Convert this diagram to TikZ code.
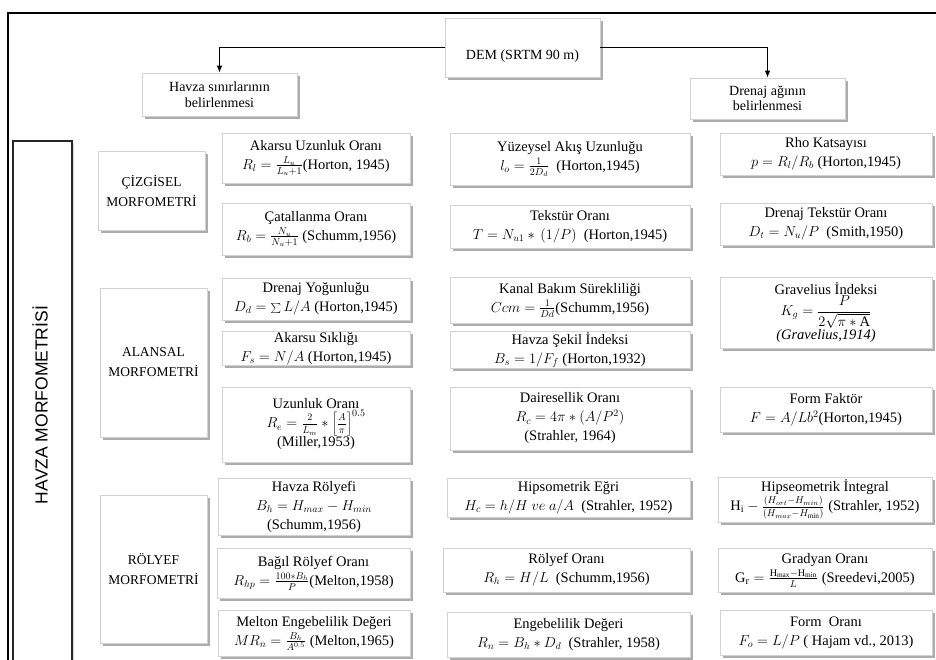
\documentclass[tikz,border=0pt]{standalone}
\usepackage{fontspec}
\setmainfont{Liberation Serif}
\newfontfamily\hsans{Liberation Sans}
\usetikzlibrary{shadows,arrows.meta}
\newcommand{\bxnode}[7][]{\node[bx,#1,minimum width={(#5-#3)*1pt},minimum height={(#6-#4)*1pt}] (#2) at ({(#3+#5)/2},{(#4+#6)/2}) {#7};}
\newcommand{\nup}{\rule[-3pt]{0pt}{0pt}}
\newcommand{\dnw}{\rule{0pt}{9pt}}
\begin{document}
\begin{tikzpicture}[x=1pt,y=-1pt,
 bx/.style={draw=gray!35, line width=0.8pt, fill=white, align=center, inner sep=1pt,
   font=\fontsize{14.5}{19}\selectfont,
   drop shadow={shadow xshift=2.6pt, shadow yshift=-2.6pt, fill=gray!65, opacity=1}},
 cat/.style={font=\fontsize{13.5}{20}\selectfont},
 top/.style={font=\fontsize{14}{15.5}\selectfont},
 conn/.style={line width=0.9pt, -{Latex[length=7pt,width=5.5pt]}},
 frame/.style={line width=2.6pt, line cap=rect},
]
\useasboundingbox (0,0) rectangle (936,660);
\fill[white] (0,0) rectangle (936,660);
% outer frame
\draw[frame] (8,664) -- (8,13) -- (940,13);

% top part
\bxnode[top]{dem}{445}{18}{600}{77}{}
\node[font=\fontsize{14}{15.5}\selectfont] (demtxt) at (522.5,56) {DEM (SRTM 90 m)};
\bxnode[top]{havzasin}{142}{73}{297}{116}{Havza sınırlarının\\belirlenmesi}
\bxnode[top]{drenaj}{690}{78}{845}{119}{Drenaj ağının\\belirlenmesi}
\draw[conn] (dem.west) -| (havzasin.north);
\draw[conn] (dem.east) -| (drenaj.north);

% big side box
\node[draw=black!85, line width=1.3pt, fill=white, minimum width=59pt, minimum height=525pt,
  drop shadow={shadow xshift=2pt, shadow yshift=-2pt, fill=gray!60}] (havzabox) at (42.5,403.5) {};
\node[rotate=90, font=\hsans\fontsize{17.5}{17.5}\selectfont] (havzatext) at (40,405) {HAVZA MORFOMETRİSİ};

% category boxes
\bxnode[cat]{cizgi}{98}{151}{205}{230}{ÇİZGİSEL\\MORFOMETRİ}
\bxnode[cat]{alan}{100}{288}{207}{437}{ALANSAL\\MORFOMETRİ}
\bxnode[cat]{rolyef}{100}{495}{207}{643}{RÖLYEF\\MORFOMETRİ}

% left column
\bxnode{l1}{222}{133}{410}{183}{Akarsu Uzunluk Oranı\\$R_l=\frac{L_u}{L_u+1}$(Horton, 1945)}
\bxnode{l2}{222}{203}{410}{255}{Çatallanma Oranı\\$R_b=\frac{N_u}{N_u+1}$ (Schumm,1956)}
\bxnode{l3}{222}{278}{410}{320}{Drenaj Yoğunluğu\\$D_d=\sum L/A$ (Horton,1945)}
\bxnode{l4}{222}{332}{410}{365}{Akarsu Sıklığı\\$F_s=N/A$ (Horton,1945)}
\bxnode{l5}{222}{387}{410}{462}{Uzunluk Oranı\\$R_e=\frac{\nup 2}{\dnw L_m}*\left[\frac{\nup A}{\dnw\pi}\right]^{0.5}$\\(Miller,1953)}
\bxnode{l6}{218}{478}{410}{535}{Havza Rölyefi\\$B_h=H_{max}-H_{min}$\\(Schumm,1956)}
\bxnode{l7}{217}{548}{410}{598}{Bağıl Rölyef Oranı\\$R_{hp}=\frac{100*B_h}{P}$(Melton,1958)}
\bxnode{l8}{218}{610}{410}{656}{Melton Engebelilik Değeri\\$MR_n=\frac{B_h}{A^{0.5}}$ (Melton,1965)}

% middle column
\bxnode{m1}{450}{133}{690}{185}{Yüzeysel Akış Uzunluğu\\$l_o=\frac{1}{2D_d}$ \ (Horton,1945)}
\bxnode{m2}{450}{205}{690}{248}{Tekstür Oranı\\$T=N_{u1}*\,(1/P)$ \ (Horton,1945)}
\bxnode{m3}{450}{277}{690}{323}{Kanal Bakım Sürekliliği\\$Ccm=\frac{1}{Dd}$(Schumm,1956)}
\bxnode{m4}{450}{332}{690}{368}{Havza Şekil İndeksi\\$B_s=1/F_f$ (Horton,1932)}
\bxnode{m5}{450}{387}{690}{450}{Dairesellik Oranı\\$R_c=4\pi*(A/P^2)$\\(Strahler, 1964)}
\bxnode{m6}{447}{478}{690}{517}{Hipsometrik Eğri\\$H_c=h/H\ ve\ a/A$ \ (Strahler, 1952)}
\bxnode{m7}{443}{548}{690}{592}{Rölyef Oranı\\$R_h=H/L$ \ (Schumm,1956)}
\bxnode{m8}{447}{612}{690}{657}{Engebelilik Değeri\\$R_n=B_h*D_d$ \ (Strahler, 1958)}

% right column
\bxnode{r1}{720}{133}{932}{175}{Rho Katsayısı\\$p=R_l/R_b$ (Horton,1945)}
\bxnode{r2}{720}{203}{932}{245}{Drenaj Tekstür Oranı\\$D_t=N_u/P$ \ (Smith,1950)}
\bxnode{r3}{720}{277}{932}{348}{Gravelius İndeksi\\$K_g={\displaystyle\frac{P}{2\sqrt{\mathrm{\pi}*\mathrm{A}}}}$\\\textit{(Gravelius,1914)}}
\bxnode{r5}{720}{387}{932}{432}{Form Faktör\\$F=A/Lb^2$(Horton,1945)}
\bxnode{r6}{718}{477}{932}{522}{Hipseometrik İntegral\\$\mathrm{H_i}-\frac{\nup(H_{ort}-H_{min})}{\dnw(H_{max}-H_{\mathrm{min}})}$ (Strahler, 1952)}
\bxnode{r7}{718}{548}{932}{592}{Gradyan Oranı\\$\mathrm{G_r}=\frac{\mathrm{H_{max}-H_{min}}}{L}$ (Sreedevi,2005)}
\bxnode{r8}{720}{610}{932}{655}{Form \ Oranı\\$F_o=L/P$ ( Hajam vd., 2013)}
\end{tikzpicture}
\end{document}
